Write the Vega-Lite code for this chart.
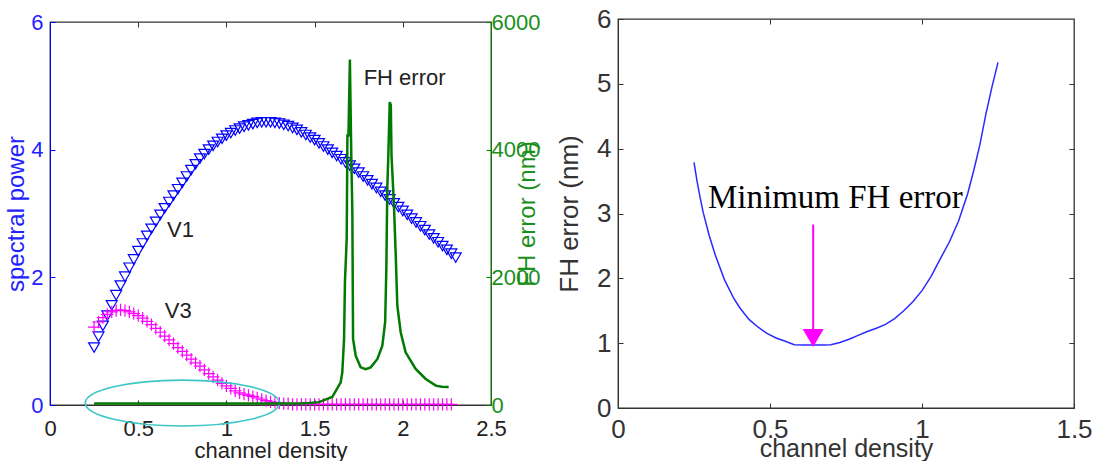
{
  "$schema": "https://vega.github.io/schema/vega-lite/v6.json",
  "background": "white",
  "padding": {"left": 4, "top": 5, "right": 5, "bottom": 0},
  "bounds": "flush",
  "center": true,
  "spacing": 127,
  "config": {"view": {"stroke": "#333", "strokeWidth": 1.3}, "font": "Liberation Sans"},
  "datasets": {
    "v1": [
      {"x":0.25,"y":0.9},{"x":0.275,"y":1.07},{"x":0.3,"y":1.24},{"x":0.325,"y":1.4},{"x":0.35,"y":1.56},{"x":0.375,"y":1.72},{"x":0.4,"y":1.87},{"x":0.425,"y":2.01},{"x":0.45,"y":2.15},{"x":0.475,"y":2.28},
      {"x":0.5,"y":2.41},{"x":0.525,"y":2.53},{"x":0.55,"y":2.65},{"x":0.575,"y":2.76},{"x":0.6,"y":2.87},{"x":0.625,"y":2.98},{"x":0.65,"y":3.08},{"x":0.675,"y":3.18},{"x":0.7,"y":3.28},{"x":0.725,"y":3.38},
      {"x":0.75,"y":3.48},{"x":0.775,"y":3.58},{"x":0.8,"y":3.68},{"x":0.825,"y":3.77},{"x":0.85,"y":3.86},{"x":0.875,"y":3.93},{"x":0.9,"y":4.0},{"x":0.925,"y":4.06},{"x":0.95,"y":4.12},{"x":0.975,"y":4.17},
      {"x":1.0,"y":4.22},{"x":1.025,"y":4.26},{"x":1.05,"y":4.3},{"x":1.075,"y":4.33},{"x":1.1,"y":4.36},{"x":1.125,"y":4.38},{"x":1.15,"y":4.4},{"x":1.175,"y":4.42},{"x":1.2,"y":4.43},{"x":1.225,"y":4.43},
      {"x":1.25,"y":4.43},{"x":1.275,"y":4.42},{"x":1.3,"y":4.41},{"x":1.325,"y":4.39},{"x":1.35,"y":4.37},{"x":1.375,"y":4.34},{"x":1.4,"y":4.31},{"x":1.425,"y":4.27},{"x":1.45,"y":4.23},{"x":1.475,"y":4.19},
      {"x":1.5,"y":4.15},{"x":1.525,"y":4.1},{"x":1.55,"y":4.05},{"x":1.575,"y":4.0},{"x":1.6,"y":3.95},{"x":1.625,"y":3.9},{"x":1.65,"y":3.85},{"x":1.675,"y":3.8},{"x":1.7,"y":3.75},{"x":1.725,"y":3.7},
      {"x":1.75,"y":3.64},{"x":1.775,"y":3.58},{"x":1.8,"y":3.52},{"x":1.825,"y":3.46},{"x":1.85,"y":3.4},{"x":1.875,"y":3.34},{"x":1.9,"y":3.28},{"x":1.925,"y":3.22},{"x":1.95,"y":3.16},{"x":1.975,"y":3.1},
      {"x":2.0,"y":3.04},{"x":2.025,"y":2.98},{"x":2.05,"y":2.92},{"x":2.075,"y":2.86},{"x":2.1,"y":2.8},{"x":2.125,"y":2.74},{"x":2.15,"y":2.67},{"x":2.175,"y":2.61},{"x":2.2,"y":2.55},{"x":2.225,"y":2.49},
      {"x":2.25,"y":2.43},{"x":2.275,"y":2.37},{"x":2.3,"y":2.31}
    ],
    "v3": [
      {"x":0.25,"y":1.22},{"x":0.275,"y":1.3},{"x":0.3,"y":1.37},{"x":0.325,"y":1.42},{"x":0.35,"y":1.46},{"x":0.375,"y":1.48},{"x":0.4,"y":1.49},{"x":0.425,"y":1.48},{"x":0.45,"y":1.46},{"x":0.475,"y":1.43},
      {"x":0.5,"y":1.4},{"x":0.525,"y":1.36},{"x":0.55,"y":1.31},{"x":0.575,"y":1.26},{"x":0.6,"y":1.2},{"x":0.625,"y":1.14},{"x":0.65,"y":1.08},{"x":0.675,"y":1.02},{"x":0.7,"y":0.96},{"x":0.725,"y":0.9},
      {"x":0.75,"y":0.84},{"x":0.775,"y":0.78},{"x":0.8,"y":0.72},{"x":0.825,"y":0.66},{"x":0.85,"y":0.61},{"x":0.875,"y":0.55},{"x":0.9,"y":0.49},{"x":0.925,"y":0.44},{"x":0.95,"y":0.39},{"x":0.975,"y":0.34},
      {"x":1.0,"y":0.3},{"x":1.025,"y":0.26},{"x":1.05,"y":0.22},{"x":1.075,"y":0.19},{"x":1.1,"y":0.17},{"x":1.125,"y":0.15},{"x":1.15,"y":0.13},{"x":1.175,"y":0.11},{"x":1.2,"y":0.09},{"x":1.225,"y":0.07},
      {"x":1.25,"y":0.05},{"x":1.275,"y":0.04},{"x":1.3,"y":0.03},{"x":1.325,"y":0.02},{"x":1.35,"y":0.02},{"x":1.375,"y":0.01},{"x":1.4,"y":0.01},{"x":1.425,"y":0.01},{"x":1.45,"y":0.01},{"x":1.475,"y":0.01},
      {"x":1.5,"y":0.01},{"x":1.525,"y":0.01},{"x":1.55,"y":0.01},{"x":1.575,"y":0.01},{"x":1.6,"y":0.01},{"x":1.625,"y":0.01},{"x":1.65,"y":0.01},{"x":1.675,"y":0.01},{"x":1.7,"y":0.01},{"x":1.725,"y":0.01},
      {"x":1.75,"y":0.01},{"x":1.775,"y":0.01},{"x":1.8,"y":0.01},{"x":1.825,"y":0.01},{"x":1.85,"y":0.01},{"x":1.875,"y":0.01},{"x":1.9,"y":0.01},{"x":1.925,"y":0.01},{"x":1.95,"y":0.01},{"x":1.975,"y":0.01},
      {"x":2.0,"y":0.01},{"x":2.025,"y":0.01},{"x":2.05,"y":0.01},{"x":2.075,"y":0.01},{"x":2.1,"y":0.01},{"x":2.125,"y":0.01},{"x":2.15,"y":0.01},{"x":2.175,"y":0.01},{"x":2.2,"y":0.01},{"x":2.225,"y":0.01},
      {"x":2.25,"y":0.01},{"x":2.275,"y":0.01}
    ],
    "fh": [
      {"x":0.25,"y":25},{"x":0.5,"y":25},{"x":0.75,"y":25},{"x":1.0,"y":25},{"x":1.25,"y":25},{"x":1.41,"y":25},{"x":1.47,"y":30},{"x":1.525,"y":45},{"x":1.6,"y":125},
      {"x":1.648,"y":355},{"x":1.657,"y":512},{"x":1.667,"y":1034},{"x":1.672,"y":1928},{"x":1.682,"y":2600},{"x":1.686,"y":4220},{"x":1.692,"y":4220},{"x":1.7,"y":5412},
      {"x":1.708,"y":3900},{"x":1.714,"y":3020},{"x":1.718,"y":1034},{"x":1.733,"y":773},{"x":1.761,"y":590},{"x":1.79,"y":560},{"x":1.818,"y":590},{"x":1.856,"y":721},
      {"x":1.884,"y":930},{"x":1.9,"y":1300},{"x":1.907,"y":2184},{"x":1.912,"y":3386},{"x":1.918,"y":3908},{"x":1.926,"y":4745},{"x":1.932,"y":4700},{"x":1.936,"y":3908},
      {"x":1.95,"y":3124},{"x":1.96,"y":2340},{"x":1.969,"y":1556},{"x":1.988,"y":1140},{"x":2.016,"y":826},{"x":2.073,"y":564},{"x":2.13,"y":408},{"x":2.187,"y":303},
      {"x":2.22,"y":285},{"x":2.26,"y":282}
    ],
    "ellipse": [{"x":0.75,"y":0.03}],
    "labels": [
      {"x":0.74,"y":2.74,"label":"V1"},
      {"x":0.727,"y":1.48,"label":"V3"},
      {"x":2.01,"y":5.12,"label":"FH error"}
    ],
    "fhmin": [
      {"x":0.25,"y":3.79},{"x":0.26,"y":3.5},{"x":0.27,"y":3.25},{"x":0.28,"y":3.02},{"x":0.3,"y":2.66},{"x":0.32,"y":2.36},{"x":0.35,"y":1.98},{"x":0.38,"y":1.7},{"x":0.4,"y":1.55},
      {"x":0.43,"y":1.37},{"x":0.46,"y":1.25},{"x":0.49,"y":1.15},{"x":0.52,"y":1.08},{"x":0.55,"y":1.03},{"x":0.58,"y":0.975},{"x":0.61,"y":0.97},{"x":0.64,"y":0.97},{"x":0.67,"y":0.97},
      {"x":0.7,"y":0.975},{"x":0.73,"y":1.01},{"x":0.76,"y":1.06},{"x":0.79,"y":1.12},{"x":0.82,"y":1.18},{"x":0.85,"y":1.23},{"x":0.88,"y":1.29},{"x":0.91,"y":1.38},{"x":0.94,"y":1.5},
      {"x":0.97,"y":1.64},{"x":1.0,"y":1.81},{"x":1.03,"y":2.03},{"x":1.06,"y":2.3},{"x":1.09,"y":2.56},{"x":1.12,"y":2.88},{"x":1.15,"y":3.3},{"x":1.17,"y":3.66},{"x":1.19,"y":4.05},
      {"x":1.21,"y":4.53},{"x":1.23,"y":4.95},{"x":1.25,"y":5.33}
    ],
    "arrow": [{"x":0.642,"y":2.83,"y2":1.2,"yh":1.08}],
    "note": [{"x":0.715,"y":3.08,"label":"Minimum FH error"}]
  },
  "hconcat": [
    {
      "width": 441,
      "height": 383,
      "layer": [
        {
          "layer": [
            {
              "data": {"name": "v1"},
              "mark": {"type": "point", "shape": "triangle-down", "filled": false, "color": "#0000ff", "size": 120, "strokeWidth": 1.2, "opacity": 1},
              "encoding": {
                "x": {"field": "x", "type": "quantitative", "scale": {"domain": [0, 2.5], "nice": false},
                  "axis": {"values": [0, 0.5, 1, 1.5, 2, 2.5], "format": "~g", "title": "channel density", "grid": false, "tickSize": -5, "tickColor": "#333", "domainColor": "#333", "labelFontSize": 22, "labelColor": "#222", "labelPadding": 18, "labelFlush": false, "labelOverlap": false, "titleFontSize": 22, "titleFontWeight": "normal", "titleColor": "#222", "titlePadding": 1}},
                "y": {"field": "y", "type": "quantitative", "scale": {"domain": [0, 6], "nice": false},
                  "axis": {"values": [0, 2, 4, 6], "format": "~g", "title": "spectral power", "grid": false, "tickSize": -5, "tickColor": "#0000ff", "domainColor": "#0000ff", "labelFontSize": 22, "labelColor": "#2222ff", "labelPadding": 12, "labelFlush": false, "titleFontSize": 24, "titleFontWeight": "normal", "titleColor": "#2222ff", "titlePadding": 2}}
              }
            },
            {
              "data": {"name": "v3"},
              "mark": {"type": "point", "shape": "M-1,0H1M0,-1V1", "filled": false, "color": "#ff00ff", "size": 150, "strokeWidth": 1.2, "opacity": 1},
              "encoding": {
                "x": {"field": "x", "type": "quantitative", "scale": {"domain": [0, 2.5], "nice": false}},
                "y": {"field": "y", "type": "quantitative", "scale": {"domain": [0, 6], "nice": false}}
              }
            },
            {
              "data": {"name": "ellipse"},
              "mark": {"type": "point", "shape": "M-1,0A1,0.237,0,1,1,1,0A1,0.237,0,1,1,-1,0Z", "filled": false, "color": "#3cc6c6", "size": 37636, "strokeWidth": 1.6, "opacity": 1},
              "encoding": {
                "x": {"field": "x", "type": "quantitative", "scale": {"domain": [0, 2.5], "nice": false}},
                "y": {"field": "y", "type": "quantitative", "scale": {"domain": [0, 6], "nice": false}}
              }
            },
            {
              "data": {"name": "labels"},
              "mark": {"type": "text", "fontSize": 22, "color": "#222", "align": "center", "baseline": "middle"},
              "encoding": {
                "x": {"field": "x", "type": "quantitative", "scale": {"domain": [0, 2.5], "nice": false}},
                "y": {"field": "y", "type": "quantitative", "scale": {"domain": [0, 6], "nice": false}},
                "text": {"field": "label"}
              }
            }
          ]
        },
        {
          "data": {"name": "fh"},
          "mark": {"type": "line", "color": "#007a00", "strokeWidth": 2.5},
          "encoding": {
            "x": {"field": "x", "type": "quantitative", "scale": {"domain": [0, 2.5], "nice": false},
              "axis": {"orient": "top", "values": [0.5, 1, 1.5, 2], "labels": false, "title": null, "domain": false, "grid": false, "tickSize": -5, "tickColor": "#333"}},
            "y": {"field": "y", "type": "quantitative", "scale": {"domain": [0, 6000], "nice": false},
              "axis": {"orient": "right", "values": [0, 2000, 4000, 6000], "format": "d", "title": "FH error (nm)", "titleAngle": 270, "grid": false, "tickSize": -5, "tickColor": "#008000", "domainColor": "#008000", "labelFontSize": 22, "labelColor": "#1b8f1b", "labelPadding": 5, "labelFlush": false, "titleFontSize": 24, "titleFontWeight": "normal", "titleColor": "#1b8f1b", "titlePadding": 0}}
          }
        }
      ],
      "resolve": {"scale": {"x": "independent", "y": "independent"}}
    },
    {
      "width": 456,
      "height": 389,
      "layer": [
        {
          "layer": [
            {
              "data": {"name": "fhmin"},
              "mark": {"type": "line", "color": "#2a2aff", "strokeWidth": 1.5},
              "encoding": {
                "x": {"field": "x", "type": "quantitative", "scale": {"domain": [0, 1.5], "nice": false},
                  "axis": {"values": [0, 0.5, 1, 1.5], "format": "~g", "title": "channel density", "grid": false, "tickSize": -5, "tickColor": "#333", "domainColor": "#333", "labelFontSize": 26, "labelColor": "#333", "labelPadding": 13, "labelFlush": false, "labelOverlap": false, "titleFontSize": 25, "titleFontWeight": "normal", "titleColor": "#333", "titlePadding": -6}},
                "y": {"field": "y", "type": "quantitative", "scale": {"domain": [0, 6], "nice": false},
                  "axis": {"values": [0, 1, 2, 3, 4, 5, 6], "format": "~g", "title": "FH error (nm)", "grid": false, "tickSize": -5, "tickColor": "#333", "domainColor": "#333", "labelFontSize": 26, "labelColor": "#333", "labelPadding": 12, "labelFlush": false, "titleFontSize": 26, "titleFontWeight": "normal", "titleColor": "#333", "titlePadding": 14}}
              }
            },
            {
              "data": {"name": "arrow"},
              "mark": {"type": "point", "shape": "triangle-down", "filled": true, "color": "#ff00ff", "size": 441, "opacity": 1},
              "encoding": {
                "x": {"field": "x", "type": "quantitative", "scale": {"domain": [0, 1.5], "nice": false}},
                "y": {"field": "yh", "type": "quantitative", "scale": {"domain": [0, 6], "nice": false}}
              }
            },
            {
              "data": {"name": "note"},
              "mark": {"type": "text", "font": "Liberation Serif", "fontSize": 33, "color": "#000", "align": "center", "baseline": "alphabetic"},
              "encoding": {
                "x": {"field": "x", "type": "quantitative", "scale": {"domain": [0, 1.5], "nice": false}},
                "y": {"field": "y", "type": "quantitative", "scale": {"domain": [0, 6], "nice": false}},
                "text": {"field": "label"}
              }
            }
          ]
        },
        {
          "data": {"name": "arrow"},
          "mark": {"type": "rule", "color": "#ff00ff", "strokeWidth": 2},
          "encoding": {
            "x": {"field": "x", "type": "quantitative", "scale": {"domain": [0, 1.5], "nice": false},
              "axis": {"orient": "top", "values": [0.5, 1], "labels": false, "title": null, "domain": false, "grid": false, "tickSize": -5, "tickColor": "#333"}},
            "y": {"field": "y", "type": "quantitative", "scale": {"domain": [0, 6], "nice": false},
              "axis": {"orient": "right", "values": [1, 2, 3, 4, 5], "labels": false, "title": null, "domain": false, "grid": false, "tickSize": -5, "tickColor": "#333"}},
            "y2": {"field": "y2"}
          }
        }
      ],
      "resolve": {"scale": {"x": "independent", "y": "independent"}}
    }
  ]
}
